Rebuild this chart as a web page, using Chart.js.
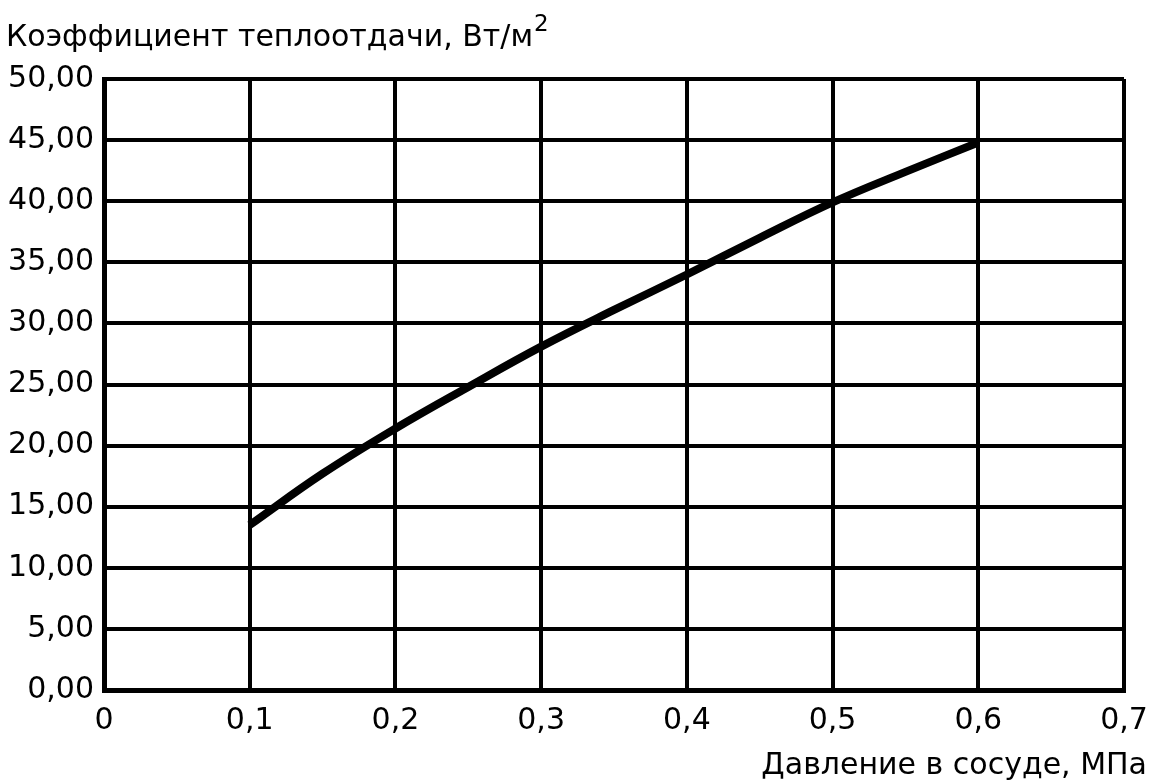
<!DOCTYPE html>
<html>
<head>
<meta charset="utf-8">
<script src="https://cdn.jsdelivr.net/npm/chart.js@4/dist/chart.umd.min.js"></script>
<style>
  html, body { margin: 0; padding: 0; background: #fff; }
  #wrap { width: 1153px; height: 783px; }
</style>
</head>
<body>
<div id="wrap"><canvas id="chart" width="1153" height="783"></canvas></div>
<script>
// pressure, MPa
const pressure = [0.1, 0.15, 0.2, 0.25, 0.3, 0.35, 0.4, 0.45, 0.5, 0.55, 0.6];
// heat transfer coefficient, W/m2
const coefficient = [13.5, 17.7, 21.4, 24.8, 28.1, 31.1, 34.0, 37.0, 39.9, 42.4, 44.8];

const yTitle = 'Коэффициент теплоотдачи, Вт/м';
const ySup = '2';
const xTitle = 'Давление в сосуде, МПа';

const fontFamily = "'DejaVu Sans', sans-serif";
const fontSize = 30;

const comma = (v, d) => v.toFixed(d).replace('.', ',');

// axis titles drawn in the page corners
const titles = {
  id: 'titles',
  afterDraw(chart) {
    const ctx = chart.ctx;
    ctx.save();
    ctx.fillStyle = '#000';
    ctx.font = fontSize + 'px ' + fontFamily;
    ctx.textBaseline = 'alphabetic';
    ctx.textAlign = 'left';
    ctx.fillText(yTitle, 6, 46);
    const w = ctx.measureText(yTitle).width;
    ctx.font = '23px ' + fontFamily;
    ctx.fillText(ySup, 6 + w + 1, 31);
    ctx.font = fontSize + 'px ' + fontFamily;
    ctx.textAlign = 'right';
    ctx.fillText(xTitle, 1147, 774);
    ctx.restore();
  }
};

new Chart(document.getElementById('chart'), {
  type: 'line',
  data: {
    datasets: [{
      data: pressure.map((p, i) => ({ x: p, y: coefficient[i] })),
      borderColor: '#000',
      borderWidth: 8,
      borderCapStyle: 'butt',
      pointRadius: 0,
      tension: 0.4,
      fill: false
    }]
  },
  options: {
    responsive: false,
    animation: false,
    layout: { padding: { top: 79, right: 29, bottom: 0, left: 0 } },
    plugins: { legend: { display: false }, tooltip: { enabled: false }, title: { display: false } },
    scales: {
      x: {
        type: 'linear',
        min: 0, max: 0.7,
        grid: { color: '#000', lineWidth: 4, drawTicks: false },
        border: { color: '#000', width: 5 },
        ticks: {
          stepSize: 0.1,
          color: '#000',
          padding: 13,
          font: { family: fontFamily, size: fontSize },
          maxRotation: 0,
          callback: v => v === 0 ? '0' : comma(v, 1)
        },
        afterFit: s => { s.height = 93; s.paddingLeft = 0; s.paddingRight = 0; }
      },
      y: {
        min: 0, max: 50,
        grid: { color: '#000', lineWidth: 4, drawTicks: false },
        border: { color: '#000', width: 5 },
        ticks: {
          stepSize: 5,
          color: '#000',
          padding: 10,
          font: { family: fontFamily, size: fontSize },
          callback: v => comma(v, 2)
        },
        afterFit: s => { s.width = 104; }
      }
    }
  },
  plugins: [titles]
});
</script>
</body>
</html>
